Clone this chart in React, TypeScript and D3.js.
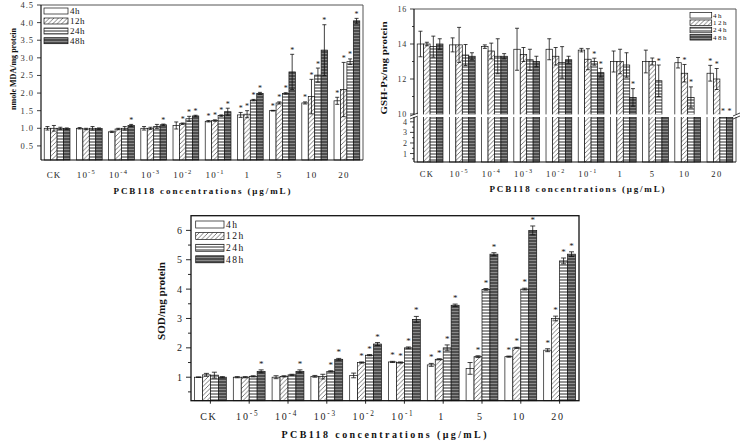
import React from 'react';
import * as d3 from 'd3';

const categories = ['CK', '1e-5', '1e-4', '1e-3', '1e-2', '1e-1', '1', '5', '10', '20'];
const catBase = ['CK', '10', '10', '10', '10', '10', '1', '5', '10', '20'];
const catSup = ['', '-5', '-4', '-3', '-2', '-1', '', '', '', ''];
const series = ['4h', '12h', '24h', '48h'];
const legendLabels = ['4h', '12h', '24h', '48h'];

// MDA (nmole MDA/mg protein)
const mdaMean = [
  [1.0, 1.0, 0.9, 1.0, 1.08, 1.2, 1.38, 1.5, 1.72, 1.78],
  [1.0, 0.98, 0.98, 1.0, 1.13, 1.22, 1.4, 1.72, 1.9, 2.1],
  [1.0, 1.0, 1.0, 1.05, 1.27, 1.36, 1.8, 1.99, 2.51, 2.89],
  [0.99, 0.99, 1.08, 1.1, 1.35, 1.47, 1.99, 2.6, 3.22, 4.05],
];
const mdaErr = [
  [0.05, 0.02, 0.02, 0.05, 0.1, 0.02, 0.07, 0.01, 0.03, 0.1],
  [0.08, 0.02, 0.02, 0.03, 0.02, 0.02, 0.1, 0.03, 0.49, 0.77],
  [0.03, 0.05, 0.05, 0.06, 0.07, 0.02, 0.02, 0.02, 0.2, 0.08],
  [0.02, 0.02, 0.03, 0.02, 0.02, 0.1, 0.03, 0.5, 0.72, 0.07],
];
const mdaStar = [
  [0, 0, 0, 0, 0, 1, 1, 1, 1, 1],
  [0, 0, 0, 0, 1, 1, 1, 1, 1, 1],
  [0, 0, 0, 0, 1, 1, 1, 1, 1, 1],
  [0, 0, 1, 1, 1, 1, 1, 1, 1, 1],
];
const mdaTicks = [0.5, 1.0, 1.5, 2.0, 2.5, 3.0, 3.5, 4.0, 4.5];

// GSH-Px (values below 10 fall inside the axis break)
const gshMean = [
  [14.0, 13.95, 13.85, 13.7, 13.7, 13.65, 13.0, 13.0, 12.93, 12.33],
  [14.0, 13.95, 13.6, 13.4, 13.3, 13.13, 13.0, 13.0, 12.33, 12.0],
  [13.85, 13.37, 13.3, 13.1, 12.95, 12.99, 12.8, 11.9, 10.95, 8],
  [14.0, 13.3, 13.3, 13.0, 13.1, 12.36, 10.95, 8, 8, 8],
];
const gshErr = [
  [0.73, 0.4, 0.1, 1.2, 0.6, 0.1, 0.6, 0.65, 0.3, 0.45],
  [0.1, 1.0, 0.45, 0.4, 0.5, 0.6, 0.7, 0.2, 0.5, 0.6],
  [0.6, 0.6, 1.0, 0.6, 0.9, 0.2, 0.7, 0.9, 0.6, 0],
  [0.3, 0.2, 0.15, 0.3, 0.2, 0.25, 0.5, 0, 0, 0],
];
const gshStar = [
  [0, 0, 0, 0, 0, 0, 0, 0, 0, 1],
  [0, 0, 0, 0, 0, 0, 0, 0, 1, 1],
  [0, 0, 0, 0, 0, 1, 0, 1, 1, 1],
  [0, 0, 0, 0, 0, 1, 1, 0, 0, 1],
];
const gshUpperTicks = [10, 11, 12, 13, 14, 15, 16];
const gshLowerTicks = [0.5, 1, 1.5, 2, 2.5, 3, 3.5, 4];

// SOD
const sodMean = [
  [1.0, 1.0, 1.0, 1.03, 1.06, 1.52, 1.42, 1.3, 1.7, 1.92],
  [1.08, 1.0, 1.03, 1.02, 1.5, 1.5, 1.61, 1.7, 2.0, 3.0],
  [1.07, 1.03, 1.08, 1.2, 1.75, 2.0, 2.0, 3.99, 4.0, 4.96],
  [1.0, 1.2, 1.2, 1.61, 2.13, 2.97, 3.45, 5.19, 6.0, 5.19],
];
const sodErr = [
  [0.01, 0.02, 0.05, 0.03, 0.08, 0.02, 0.05, 0.2, 0.02, 0.05],
  [0.05, 0.02, 0.02, 0.08, 0.02, 0.02, 0.02, 0.03, 0.02, 0.08],
  [0.1, 0.02, 0.02, 0.02, 0.02, 0.03, 0.1, 0.03, 0.03, 0.1],
  [0.02, 0.05, 0.05, 0.03, 0.05, 0.1, 0.04, 0.05, 0.15, 0.08],
];
const sodStar = [
  [0, 0, 0, 0, 0, 1, 1, 0, 1, 1],
  [0, 0, 0, 0, 1, 1, 1, 1, 1, 1],
  [0, 0, 0, 1, 1, 1, 1, 1, 1, 1],
  [0, 1, 1, 1, 1, 1, 1, 1, 1, 1],
];
const sodTicks = [0.5, 1, 1.5, 2, 2.5, 3, 3.5, 4, 4.5, 5, 5.5, 6];

const FONT = '"Liberation Serif", "Times New Roman", serif';
const fills = ['#ffffff', 'url(#p12)', 'url(#p24)', 'url(#p48)'];

type BarsProps = {
  x: d3.ScaleBand<string>;
  yPix: (v: number) => number;
  yBottom: number;
  means: number[][];
  errs: number[][];
  stars: number[][];
  capW: number;
  starSize: number;
  starLift: number;
  hiddenBelow?: number;
  hiddenStarY?: number;
};

function Bars(p: BarsProps) {
  const sub = d3.scaleBand<string>().domain(series).range([0, p.x.bandwidth()]);
  const out: React.ReactNode[] = [];
  categories.forEach((c, ci) => {
    series.forEach((s, si) => {
      const v = p.means[si][ci];
      const e = p.errs[si][ci];
      const x0 = (p.x(c) as number) + (sub(s) as number);
      const w = sub.bandwidth();
      const yTop = p.yPix(v);
      const hidden = p.hiddenBelow !== undefined && v < p.hiddenBelow;
      out.push(
        <rect key={`b${ci}-${si}`} x={x0} y={yTop} width={w} height={p.yBottom - yTop}
          fill={fills[si]} stroke="#111" strokeWidth={0.7} />
      );
      const cx = x0 + w / 2;
      let starBase = yTop - p.starLift;
      if (!hidden && e > 0) {
        const yHi = p.yPix(v + e);
        const yLo = p.yPix(v - e);
        starBase = yHi - p.starLift;
        out.push(
          <g key={`e${ci}-${si}`} stroke="#111" strokeWidth={0.8}>
            <line x1={cx} x2={cx} y1={yHi} y2={yLo} />
            <line x1={cx - p.capW / 2} x2={cx + p.capW / 2} y1={yHi} y2={yHi} />
            <line x1={cx - p.capW / 2} x2={cx + p.capW / 2} y1={yLo} y2={yLo} />
          </g>
        );
      }
      if (hidden && p.hiddenStarY !== undefined) starBase = p.hiddenStarY;
      if (p.stars[si][ci]) {
        out.push(
          <text key={`s${ci}-${si}`} x={cx} y={starBase} textAnchor="middle"
            fontSize={p.starSize} fontFamily={FONT} fill="#111">*</text>
        );
      }
    });
  });
  return <g>{out}</g>;
}

function CatLabels({ x, y, size, dx, spacing }: { x: d3.ScaleBand<string>; y: number; size: number; dx: number; spacing: number }) {
  return (
    <g>
      {categories.map((c, i) => (
        <text key={c} x={(x(c) as number) + x.bandwidth() / 2 + dx} y={y} textAnchor="middle"
          fontSize={size} fontFamily={FONT} letterSpacing={spacing} fill="#222">
          {catBase[i]}
          {catSup[i] ? <tspan dy={-size * 0.45} fontSize={size * 0.72}>{catSup[i]}</tspan> : null}
        </text>
      ))}
    </g>
  );
}

function Legend({ x, ys, w, h, tx, size, spacing }: { x: number; ys: number[]; w: number; h: number; tx: number; size: number; spacing: number }) {
  return (
    <g>
      {legendLabels.map((l, i) => (
        <g key={l}>
          <rect x={x} y={ys[i] - h / 2} width={w} height={h} fill={fills[i]} stroke="#111" strokeWidth={0.7} />
          <text x={tx} y={ys[i] + size * 0.35} fontSize={size} fontFamily={FONT} letterSpacing={spacing} fill="#111">{l}</text>
        </g>
      ))}
    </g>
  );
}

function MdaChart() {
  const L = 41, R = 363, T = 5, B = 160;
  const x = d3.scaleBand<string>().domain(categories).range([L, R]).paddingInner(0.2).paddingOuter(0.1);
  const y = d3.scaleLinear().domain([0.1, 4.5]).range([B, T]);
  return (
    <g>
      <Bars x={x} yPix={y} yBottom={B} means={mdaMean} errs={mdaErr} stars={mdaStar} capW={4} starSize={8} starLift={1.5} />
      <line x1={L} x2={R} y1={T} y2={T} stroke="#555" strokeWidth={1} />
      <line x1={R} x2={R} y1={T} y2={B} stroke="#555" strokeWidth={1} />
      <line x1={L} x2={L} y1={T} y2={B} stroke="#111" strokeWidth={1.2} />
      <line x1={L} x2={R} y1={B} y2={B} stroke="#111" strokeWidth={1.2} />
      {mdaTicks.map((t) => (
        <g key={t}>
          <line x1={L - 4} x2={L} y1={y(t)} y2={y(t)} stroke="#111" strokeWidth={0.8} />
          <text x={L - 7} y={y(t) + 3} textAnchor="end" fontSize={8.5} fontFamily={FONT} letterSpacing={1} fill="#333">{d3.format('.1f')(t)}</text>
        </g>
      ))}
      <CatLabels x={x} y={178} size={9} dx={-3} spacing={1.2} />
      <text x={202} y={194} textAnchor="middle" fontSize={9} fontWeight="bold" fontFamily={FONT} textLength={177} lengthAdjust="spacing" fill="#111">PCB118 concentrations (μg/mL)</text>
      <text transform="translate(16,69) rotate(-90)" textAnchor="middle" fontSize={8.5} fontWeight="bold" fontFamily={FONT} textLength={82} lengthAdjust="spacingAndGlyphs" fill="#111">nmole MDA/mg protein</text>
      <Legend x={44} ys={[11, 21, 31, 40.7]} w={24} h={6} tx={70} size={9} spacing={0.5} />
    </g>
  );
}

function GshChart() {
  const L = 414, R = 736, T = 9, B = 162;
  const x = d3.scaleBand<string>().domain(categories).range([L, R]).paddingInner(0.2).paddingOuter(0.1);
  const yU = d3.scaleLinear().domain([10, 16]).range([114, T]);
  const yL = d3.scaleLinear().domain([0.2, 4.4]).range([B, 117.6]);
  const yPix = (v: number) => (v >= 10 ? yU(v) : v > 4.4 ? yL(4.4) : yL(v));
  return (
    <g>
      <Bars x={x} yPix={yPix} yBottom={B} means={gshMean} errs={gshErr} stars={gshStar} capW={4} starSize={8} starLift={1.5} hiddenBelow={10} hiddenStarY={yU(10) - 0.5} />
      <rect x={L - 1} y={114.4} width={R - L + 6} height={2.6} fill="#fff" />
      <line x1={L} x2={R} y1={T} y2={T} stroke="#555" strokeWidth={1} />
      <line x1={R} x2={R} y1={T} y2={114.4} stroke="#555" strokeWidth={1} />
      <line x1={R} x2={R} y1={117} y2={B} stroke="#555" strokeWidth={1} />
      <line x1={L} x2={L} y1={T} y2={114.4} stroke="#111" strokeWidth={1.2} />
      <line x1={L} x2={L} y1={117} y2={B} stroke="#111" strokeWidth={1.2} />
      <line x1={L} x2={R} y1={B} y2={B} stroke="#111" strokeWidth={1.2} />
      <g stroke="#111" strokeWidth={0.8}>
        <line x1={L - 4} x2={L + 4} y1={116} y2={113} />
        <line x1={L - 4} x2={L + 4} y1={119} y2={116} />
        <line x1={R - 3} x2={R + 4} y1={116} y2={113} />
        <line x1={R - 3} x2={R + 4} y1={119} y2={116} />
      </g>
      {gshUpperTicks.map((t) => (
        <g key={`u${t}`}>
          <line x1={L - (t % 2 === 0 ? 4 : 2)} x2={L} y1={yU(t)} y2={yU(t)} stroke="#111" strokeWidth={0.8} />
          {t % 2 === 0 ? (
            <text x={L - 7} y={yU(t) + 3} textAnchor="end" fontSize={8} fontFamily={FONT} letterSpacing={0.8} fill="#333">{t}</text>
          ) : null}
        </g>
      ))}
      {gshLowerTicks.map((t) => (
        <g key={`l${t}`}>
          <line x1={L - (Number.isInteger(t) ? 4 : 2)} x2={L} y1={yL(t)} y2={yL(t)} stroke="#111" strokeWidth={0.8} />
          {Number.isInteger(t) ? (
            <text x={L - 7} y={yL(t) + 3} textAnchor="end" fontSize={8} fontFamily={FONT} fill="#333">{t}</text>
          ) : null}
        </g>
      ))}
      <CatLabels x={x} y={177} size={8.5} dx={-3} spacing={1.5} />
      <text x={577} y={192} textAnchor="middle" fontSize={9} fontWeight="bold" fontFamily={FONT} textLength={175} lengthAdjust="spacing" fill="#111">PCB118 concentrations (μg/mL)</text>
      <text transform="translate(387,68) rotate(-90)" textAnchor="middle" fontSize={8.5} fontWeight="bold" fontFamily={FONT} textLength={93} lengthAdjust="spacingAndGlyphs" fill="#111">GSH-Px/mg protein</text>
      <Legend x={690} ys={[15.3, 22.7, 30, 37.3]} w={21.7} h={5.5} tx={713} size={7} spacing={1.5} />
    </g>
  );
}

function SodChart() {
  const L = 191, R = 579, T = 215.7, B = 400.7;
  const x = d3.scaleBand<string>().domain(categories).range([L, R]).paddingInner(0.18).paddingOuter(0.09);
  const y = d3.scaleLinear().domain([0.2, 6.5]).range([B, T]);
  return (
    <g>
      <Bars x={x} yPix={y} yBottom={B} means={sodMean} errs={sodErr} stars={sodStar} capW={5} starSize={9} starLift={3} />
      <rect x={L} y={T} width={R - L} height={B - T} fill="none" stroke="#111" strokeWidth={1.3} />
      {sodTicks.map((t) => (
        <g key={t}>
          <line x1={L - (Number.isInteger(t) ? 5 : 3)} x2={L} y1={y(t)} y2={y(t)} stroke="#111" strokeWidth={0.9} />
          {Number.isInteger(t) ? (
            <text x={L - 9} y={y(t) + 3.5} textAnchor="end" fontSize={10} fontFamily={FONT} fill="#222">{t}</text>
          ) : null}
        </g>
      ))}
      {categories.map((c) => (
        <line key={c} x1={(x(c) as number) + x.bandwidth() / 2} x2={(x(c) as number) + x.bandwidth() / 2} y1={B} y2={B + 3} stroke="#111" strokeWidth={0.9} />
      ))}
      <CatLabels x={x} y={420} size={10} dx={-1.5} spacing={1.8} />
      <text x={384} y={438} textAnchor="middle" fontSize={10} fontWeight="bold" fontFamily={FONT} textLength={205} lengthAdjust="spacing" fill="#111">PCB118 concentrations (μg/mL)</text>
      <text transform="translate(165,301) rotate(-90)" textAnchor="middle" fontSize={10.5} fontWeight="bold" fontFamily={FONT} textLength={78} lengthAdjust="spacingAndGlyphs" fill="#111">SOD/mg protein</text>
      <Legend x={195.7} ys={[224.5, 236, 247.8, 259.3]} w={28.3} h={7} tx={226} size={9.5} spacing={1.5} />
    </g>
  );
}

export default function App() {
  return (
    <svg width={741} height={442} viewBox="0 0 741 442"
      style={{ position: 'absolute', left: 0, top: 0, background: '#fff', fontFamily: FONT }}>
      <defs>
        <pattern id="p12" patternUnits="userSpaceOnUse" width={4.5} height={4.5}>
          <rect width={4.5} height={4.5} fill="#fff" />
          <path d="M-1,1 L1,-1 M0,4.5 L4.5,0 M3.5,5.5 L5.5,3.5" stroke="#222" strokeWidth={0.6} />
        </pattern>
        <pattern id="p24" patternUnits="userSpaceOnUse" width={6} height={3}>
          <rect width={6} height={3} fill="#fff" />
          <line x1={0} x2={6} y1={1} y2={1} stroke="#111" strokeWidth={0.9} />
        </pattern>
        <pattern id="p48" patternUnits="userSpaceOnUse" width={6} height={3}>
          <rect width={6} height={3} fill="#8a8a8a" />
          <line x1={0} x2={6} y1={1} y2={1} stroke="#111" strokeWidth={1} />
        </pattern>
      </defs>
      <rect width={741} height={442} fill="#fff" />
      <MdaChart />
      <GshChart />
      <SodChart />
    </svg>
  );
}
